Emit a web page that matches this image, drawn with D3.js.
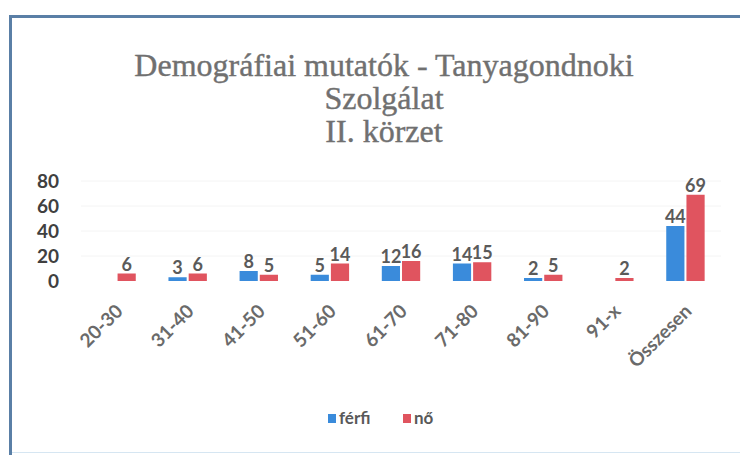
<!DOCTYPE html>
<html>
<head>
<meta charset="utf-8">
<script src="https://cdn.jsdelivr.net/npm/d3@7"></script>
<style>
  body { margin: 0; background: #fff; }
  svg { display: block; }
</style>
</head>
<body>
<div id="chart"></div>
<script>
//Chart data
var categories = ["20-30", "31-40", "41-50", "51-60", "61-70", "71-80", "81-90", "91-x", "Összesen"];
var seriesNames = ["férfi", "nő"];
var ferfi = [0, 3, 8, 5, 12, 14, 2, 0, 44];
var no = [6, 6, 5, 14, 16, 15, 5, 2, 69];
var yTicks = [0, 20, 40, 60, 80];
var titleLines = ["Demográfiai mutatók - Tanyagondnoki", "Szolgálat", "II. körzet"];

var width = 740, height = 455;
var colors = ["#3a8bdb", "#e0545f"];
var labelFont = "Lato, 'Open Sans', sans-serif";

var svg = d3.select("#chart").append("svg")
    .attr("width", width)
    .attr("height", height);

//Frame of the chart
svg.append("path")
    .attr("d", "M10.5,452.5 L740,452.5")
    .style("fill", "none")
    .style("stroke", "#d6e6f2")
    .style("stroke-width", 1);
svg.append("path")
    .attr("d", "M10.5,455 L10.5,16.5 L740,16.5")
    .style("fill", "none")
    .style("stroke", "#5a7fa6")
    .style("stroke-width", 3);

//Title
svg.append("text")
    .attr("text-anchor", "middle")
    .style("font-family", "'Liberation Serif', 'DejaVu Serif', serif")
    .style("font-size", "32px")
    .style("fill", "#707070")
    .style("stroke", "#707070")
    .style("stroke-width", 0.4)
    .selectAll("tspan")
    .data(titleLines)
    .enter()
    .append("tspan")
    .attr("x", 384)
    .attr("y", function(d, i) { return 76 + i * 33; })
    .text(function(d) { return d; });

//Scales
var x0 = d3.scaleBand()
    .domain(categories)
    .range([81, 721])
    .paddingInner(0.46)
    .paddingOuter(0.23);

var x1 = d3.scaleBand()
    .domain(seriesNames)
    .range([0, x0.bandwidth()])
    .paddingInner(0.1);

var y = d3.scaleLinear()
    .domain([0, 80])
    .range([281, 181]);

//Faint gridlines
svg.append("g")
    .selectAll("line")
    .data(yTicks.slice(1))
    .enter()
    .append("line")
    .attr("x1", 81).attr("x2", 721)
    .attr("y1", function(d) { return y(d); })
    .attr("y2", function(d) { return y(d); })
    .style("stroke", "#f4f4f4")
    .style("stroke-width", 1);

//Y axis labels
var yAxis = d3.axisLeft(y)
    .tickValues(yTicks)
    .tickSize(0)
    .tickPadding(0);

var yg = svg.append("g")
    .attr("transform", "translate(59,0)")
    .call(yAxis);
yg.select(".domain").remove();
yg.selectAll("text")
    .style("font-family", labelFont)
    .style("font-weight", "bold")
    .style("font-size", "19px")
    .style("fill", "#404040");

//Bars
var rows = categories.map(function(c, i) {
    return { cat: c, values: [ferfi[i], no[i]] };
});

function cellsOf(d) {
    return d.values.map(function(v, j) { return { name: seriesNames[j], value: v, idx: j }; })
        .filter(function(e) { return e.value > 0; });
}

var groups = svg.selectAll(".group")
    .data(rows)
    .enter()
    .append("g")
    .attr("class", "group")
    .attr("transform", function(d) { return "translate(" + x0(d.cat) + ",0)"; });

groups.selectAll("rect")
    .data(cellsOf)
    .enter()
    .append("rect")
    .attr("x", function(d) { return x1(d.name); })
    .attr("width", x1.bandwidth())
    .attr("y", function(d) { return Math.min(y(d.value), y(0) - 3); })
    .attr("height", function(d) { return Math.max(y(0) - y(d.value), 3); })
    .style("fill", function(d) { return colors[d.idx]; });

//Value labels
groups.selectAll(".val")
    .data(cellsOf)
    .enter()
    .append("text")
    .attr("class", "val")
    .attr("x", function(d) { return x1(d.name) + x1.bandwidth() / 2; })
    .attr("y", function(d) { return Math.min(y(d.value), y(0) - 3) - 3; })
    .attr("text-anchor", "middle")
    .style("font-family", labelFont)
    .style("font-weight", "bold")
    .style("font-size", "18px")
    .style("fill", "#5a5a5a")
    .text(function(d) { return d.value; });

//X axis labels (rotated)
svg.append("g")
    .selectAll("text")
    .data(categories)
    .enter()
    .append("text")
    .attr("transform", function(d) {
        return "translate(" + (x0(d) + x0.bandwidth() / 2 - 2) + ",303) rotate(-45)";
    })
    .attr("text-anchor", "end")
    .attr("dy", "0.7em")
    .style("font-family", labelFont)
    .style("font-weight", "bold")
    .style("font-size", "19px")
    .style("fill", "#6a6a6a")
    .text(function(d) { return d; });

//Legend
var legend = svg.append("g")
    .attr("transform", "translate(328,424)");

var legendX = [0, 75];
var items = legend.selectAll("g")
    .data(seriesNames)
    .enter()
    .append("g")
    .attr("transform", function(d, i) { return "translate(" + legendX[i] + ",0)"; });

items.append("rect")
    .attr("x", 0).attr("y", -10)
    .attr("width", 8).attr("height", 9)
    .style("fill", function(d, i) { return colors[i]; });

items.append("text")
    .attr("x", 11)
    .attr("y", 0)
    .style("font-family", labelFont)
    .style("font-weight", "bold")
    .style("font-size", "17px")
    .style("fill", "#595959")
    .text(function(d) { return d; });
</script>
</body>
</html>
